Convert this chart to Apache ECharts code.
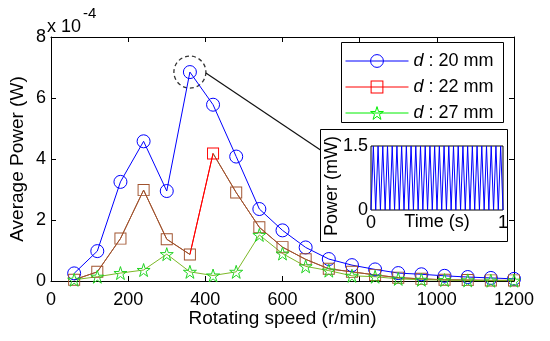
<!DOCTYPE html>
<html><head><meta charset="utf-8">
<script src="https://cdn.jsdelivr.net/npm/echarts@6/dist/echarts.min.js"></script>
<style>html,body{margin:0;padding:0;background:#fff}#c{width:550px;height:341px}</style>
</head><body><div id="c"></div>
<script>
// ---- data (power in units of 1e-4 W) ----
const speeds = [60,120,180,240,300,360,420,480,540,600,660,720,780,840,900,960,1020,1080,1140,1200];
const power20 = [0.25,0.98,3.25,4.58,2.95,6.85,5.78,4.08,2.36,1.66,1.10,0.72,0.52,0.38,0.26,0.22,0.17,0.13,0.10,0.07];
const power22 = [0.04,0.30,1.39,2.98,1.37,0.87,4.18,2.90,1.76,1.11,0.71,0.40,0.30,0.20,0.11,0.07,0.04,0.03,0.02,0.02];
const power27 = [0.04,0.14,0.26,0.36,0.88,0.30,0.18,0.30,1.51,0.90,0.48,0.34,0.17,0.14,0.07,0.04,0.03,0.02,0.01,0.01];
const seriesNames = ['d: 20 mm','d: 22 mm','d: 27 mm'];
const xTicks = {min:0, max:1200, interval:200};
const yTicks = {min:0, max:8, interval:2};
// inset: instantaneous power (mW), peaks and troughs over 1 s
const insetPower = [0,1.5,0,1.5,0,1.5,0,1.5,0,1.5,0,1.5,0,1.5,0,1.5,0,1.5,0,1.5,
                    0,1.5,0,1.5,0,1.5,0,1.5,0,1.5,0,1.5,0,1.5,0,1.5,0,1.5,0,1.5,
                    0,1.5,0,1.5,0,1.5,0,1.5,0,1.5,0,1.5,0,1.5,0,1.5,0];

const FONT = '"Liberation Sans", Arial, Helvetica, sans-serif';
const BLUE = '#0000ff', RED = '#ff0000', BROWN = '#a0522d', GREEN = '#22d422', OLIVE = '#7db828';
const SQUARE_RING = 'path://M0,0H100V100H0Z M8,8V92H92V8Z';
const STAR = 'path://M50,0L61.2,34.6L97.6,34.5L68.1,55.9L79.4,90.5L50,69L20.6,90.5L31.9,55.9L2.4,34.5L38.8,34.6Z';

const chart = echarts.init(document.getElementById('c'), null, {renderer:'canvas', width:550, height:341});
const axisBlack = {lineStyle:{color:'#000', width:1}};
const plain = (v)=>String(v);
const option = {
  animation:false,
  backgroundColor:'#fff',
  textStyle:{fontFamily:FONT, color:'#000'},
  grid:[
    {left:49, top:37, width:465, height:244},
    {left:371, top:146, width:132, height:64, show:true, borderColor:'#000', borderWidth:1}
  ],
  xAxis:[
    {gridIndex:0, type:'value', min:xTicks.min, max:xTicks.max, interval:xTicks.interval, position:'bottom',
     axisLine:{show:true, ...axisBlack}, axisTick:{show:true, inside:true, length:5, ...axisBlack},
     axisLabel:{margin:10, fontSize:18, color:'#000', fontFamily:FONT, formatter:plain}, splitLine:{show:false},
     name:'Rotating speed (r/min)', nameLocation:'middle', nameGap:28, nameMoveOverlap:false,
     nameTextStyle:{fontSize:19, color:'#000', fontFamily:FONT}},
    {gridIndex:0, type:'value', min:xTicks.min, max:xTicks.max, interval:xTicks.interval, position:'top',
     axisLine:{show:true, onZero:false, ...axisBlack}, axisTick:{show:true, inside:true, length:5, ...axisBlack},
     axisLabel:{show:false}, splitLine:{show:false}},
    {gridIndex:1, type:'value', min:0, max:1, interval:1,
     axisLine:{show:false}, axisTick:{show:false},
     axisLabel:{margin:4, fontSize:18, color:'#000', fontFamily:FONT, formatter:plain}, splitLine:{show:false},
     name:'Time (s)', nameLocation:'middle', nameGap:3, nameMoveOverlap:false,
     nameTextStyle:{fontSize:18, color:'#000', fontFamily:FONT}}
  ],
  yAxis:[
    {gridIndex:0, type:'value', min:yTicks.min, max:yTicks.max, interval:yTicks.interval, position:'left',
     axisLine:{show:true, ...axisBlack}, axisTick:{show:true, inside:true, length:5, ...axisBlack},
     axisLabel:{margin:5, fontSize:18, color:'#000', fontFamily:FONT, formatter:plain}, splitLine:{show:false},
     name:'Average Power (W)', nameLocation:'middle', nameGap:24, nameMoveOverlap:false,
     nameTextStyle:{fontSize:19, color:'#000', fontFamily:FONT}},
    {gridIndex:0, type:'value', min:yTicks.min, max:yTicks.max, interval:yTicks.interval, position:'right',
     axisLine:{show:true, onZero:false, ...axisBlack}, axisTick:{show:true, inside:true, length:5, ...axisBlack},
     axisLabel:{show:false}, splitLine:{show:false}},
    {gridIndex:1, type:'value', min:0, max:1.5, interval:1.5,
     axisLine:{show:false}, axisTick:{show:false},
     axisLabel:{margin:3, fontSize:18, color:'#000', fontFamily:FONT}, splitLine:{show:false},
     name:'Power (mW)', nameLocation:'middle', nameGap:30, nameMoveOverlap:false,
     nameTextStyle:{fontSize:18, color:'#000', fontFamily:FONT, padding:[0,16,0,0]}}
  ],
  visualMap:[{
    type:'piecewise', show:false, seriesIndex:1, dimension:0,
    pieces:[{lte:360, color:BROWN},{gt:360, lte:420, color:RED},{gt:420, color:BROWN}]
  }],
  legend:{
    orient:'vertical', left:345, top:52, padding:0, itemWidth:63, itemHeight:16, itemGap:8,
    data:[
      {name:seriesNames[0], itemStyle:{color:'rgba(0,0,0,0)', borderColor:BLUE, borderWidth:1}, lineStyle:{color:BLUE, width:1}},
      {name:seriesNames[1], itemStyle:{color:RED, borderWidth:0}, lineStyle:{color:RED, width:1}},
      {name:seriesNames[2], itemStyle:{color:'rgba(0,0,0,0)', borderColor:'#00ee00', borderWidth:1}, lineStyle:{color:'#00ee00', width:1}}
    ],
    formatter:(name)=>'{i|d} :' + name.split(':')[1],
    textStyle:{fontSize:18, color:'#000', fontFamily:FONT, lineHeight:16,
      rich:{i:{fontStyle:'italic', fontSize:18, fontFamily:FONT, color:'#000', lineHeight:16}}}
  },
  series:[
    {name:seriesNames[0], type:'line', xAxisIndex:0, yAxisIndex:0,
     data:speeds.map((s,i)=>[s,power20[i]]),
     symbol:'circle', symbolSize:13, showAllSymbol:true,
     itemStyle:{color:'rgba(0,0,0,0)', borderColor:BLUE, borderWidth:1},
     lineStyle:{color:BLUE, width:1}, emphasis:{disabled:true}},
    {name:seriesNames[1], type:'line', xAxisIndex:0, yAxisIndex:0,
     data:speeds.map((s,i)=>[s,power22[i]]),
     symbol:SQUARE_RING, symbolSize:12, showAllSymbol:true,
     itemStyle:{color:RED, borderWidth:0},
     lineStyle:{width:1}, emphasis:{disabled:true}},
    {name:seriesNames[2], type:'line', xAxisIndex:0, yAxisIndex:0,
     data:speeds.map((s,i)=>[s,power27[i]]),
     symbol:STAR, symbolSize:13, showAllSymbol:true,
     itemStyle:{color:'rgba(0,0,0,0)', borderColor:GREEN, borderWidth:1},
     lineStyle:{color:OLIVE, width:1}, emphasis:{disabled:true}},
    {name:'inset', type:'line', xAxisIndex:2, yAxisIndex:2,
     data:insetPower.map((v,i)=>[i/(insetPower.length-1), v]),
     showSymbol:false, lineStyle:{color:BLUE, width:1}, emphasis:{disabled:true}}
  ]
};
chart.setOption(option);

// annotation: dashed circle around the maximum of the 20 mm curve, linked to the inset
const pk = power20.indexOf(Math.max(...power20));
const p = chart.convertToPixel({xAxisIndex:0, yAxisIndex:0}, [speeds[pk], power20[pk]]);
const R = 16;
const insetBox = {x:320.5, y:129.5, w:187, h:112};
chart.setOption({
  graphic:[
    {type:'rect', shape:{x:insetBox.x, y:insetBox.y, width:insetBox.w, height:insetBox.h},
     style:{fill:'none', stroke:'#000', lineWidth:1}},
    {type:'rect', shape:{x:341.5, y:42.5, width:162, height:80},
     style:{fill:'none', stroke:'#000', lineWidth:1}},
    {type:'circle', shape:{cx:p[0], cy:p[1], r:R},
     style:{fill:'none', stroke:'#333', lineWidth:1.3, lineDash:[4,3]}},
    {type:'line', shape:{x1:p[0]+R, y1:p[1]+1, x2:insetBox.x, y2:150},
     style:{stroke:'#111', lineWidth:1.2}},
    {type:'text', x:47, y:27, style:{text:'x 10', fontSize:18, fontFamily:FONT, fill:'#000', verticalAlign:'middle', align:'left'}},
    {type:'text', x:83, y:14, style:{text:'-4', fontSize:15, fontFamily:FONT, fill:'#000', verticalAlign:'middle', align:'left'}}
  ]
});
</script>
</body></html>
